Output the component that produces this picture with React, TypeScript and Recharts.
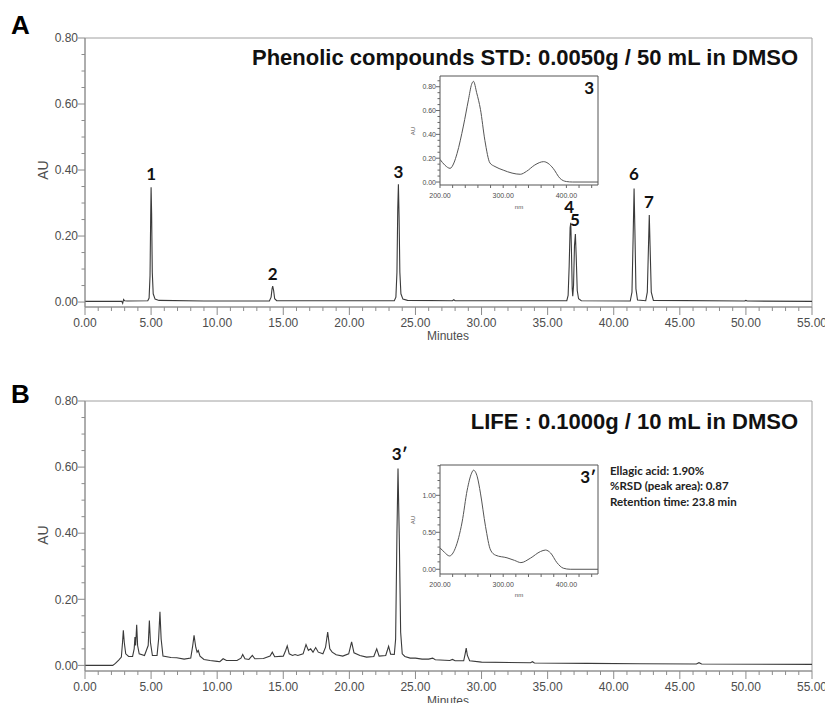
import React from 'react';
import { LineChart, Line, XAxis, YAxis, ReferenceArea, ReferenceDot } from 'recharts';

// retention time (min) vs absorbance (AU)
const traceStd: [number, number][] = [
  [0, 0.002], [2.78, 0.002], [2.85, -0.004], [2.92, 0.008], [3.0, 0.004], [3.2, 0.003],
  [4.75, 0.004], [4.85, 0.012], [4.92, 0.08], [4.97, 0.26], [5.0, 0.348], [5.04, 0.27], [5.09, 0.09], [5.16, 0.025], [5.3, 0.009], [5.6, 0.005],
  [9.0, 0.003], [13.95, 0.003], [14.08, 0.015], [14.15, 0.04], [14.2, 0.048], [14.27, 0.035], [14.35, 0.01], [14.5, 0.004],
  [23.4, 0.004], [23.52, 0.015], [23.6, 0.09], [23.66, 0.28], [23.71, 0.357], [23.76, 0.26], [23.82, 0.09], [23.9, 0.025], [24.05, 0.009], [24.4, 0.005],
  [27.8, 0.004], [27.9, 0.007], [28.0, 0.004],
  [36.45, 0.004], [36.55, 0.02], [36.63, 0.11], [36.7, 0.225], [36.75, 0.24], [36.8, 0.16], [36.86, 0.04], [36.9, 0.018], [36.96, 0.05], [37.03, 0.17], [37.1, 0.206], [37.16, 0.14], [37.24, 0.035], [37.34, 0.01], [37.55, 0.004],
  [41.25, 0.003], [41.38, 0.03], [41.47, 0.2], [41.54, 0.344], [41.6, 0.22], [41.68, 0.04], [41.8, 0.006],
  [42.42, 0.004], [42.54, 0.03], [42.63, 0.17], [42.69, 0.264], [42.75, 0.17], [42.84, 0.03], [43.0, 0.005],
  [49.9, 0.003], [50.0, 0.005], [50.1, 0.003], [55, 0.002],
];

const traceLife: [number, number][] = [
  [0, 0], [2.1, 0.0], [2.3, 0.006], [2.55, 0.016], [2.75, 0.025], [2.84, 0.07], [2.9, 0.106], [2.97, 0.07], [3.08, 0.035], [3.3, 0.027],
  [3.6, 0.027], [3.72, 0.05], [3.78, 0.086], [3.83, 0.06], [3.91, 0.123], [3.98, 0.06], [4.1, 0.035], [4.5, 0.03],
  [4.78, 0.06], [4.87, 0.136], [4.95, 0.07], [5.1, 0.03], [5.45, 0.03], [5.57, 0.08], [5.67, 0.162], [5.76, 0.08], [5.9, 0.028],
  [6.5, 0.024], [6.94, 0.023], [7.5, 0.019], [8.0, 0.022], [8.15, 0.06], [8.25, 0.091], [8.38, 0.055], [8.48, 0.04], [8.57, 0.045], [8.7, 0.028],
  [9.0, 0.018], [9.46, 0.015], [10.0, 0.012], [10.2, 0.011], [10.45, 0.02], [10.7, 0.015], [11.5, 0.015], [11.8, 0.022], [11.93, 0.033], [12.1, 0.02],
  [12.4, 0.018], [12.66, 0.03], [12.85, 0.02], [13.5, 0.021], [14.0, 0.028], [14.17, 0.04], [14.35, 0.026], [15.0, 0.028], [15.18, 0.045], [15.3, 0.059],
  [15.45, 0.035], [15.7, 0.03], [15.89, 0.033], [16.1, 0.03], [16.5, 0.035], [16.72, 0.063], [16.9, 0.045], [17.07, 0.05], [17.25, 0.04], [17.45, 0.054],
  [17.65, 0.04], [18.0, 0.035], [18.2, 0.055], [18.36, 0.101], [18.52, 0.05], [18.7, 0.04], [19.0, 0.032], [19.5, 0.028], [19.95, 0.035], [20.17, 0.071],
  [20.35, 0.038], [20.8, 0.03], [21.3, 0.025], [21.85, 0.027], [22.07, 0.05], [22.25, 0.028], [22.75, 0.03], [22.97, 0.058], [23.12, 0.034], [23.4, 0.033],
  [23.5, 0.08], [23.6, 0.4], [23.68, 0.596], [23.78, 0.38], [23.88, 0.1], [24.0, 0.035], [24.2, 0.027], [24.6, 0.022], [25.0, 0.022], [25.5, 0.019],
  [26.0, 0.019], [26.3, 0.022], [26.5, 0.017], [27.6, 0.015], [27.8, 0.018], [28.0, 0.014], [28.65, 0.014], [28.76, 0.035], [28.84, 0.052], [28.93, 0.03],
  [29.1, 0.014], [30, 0.01], [33.7, 0.008], [33.85, 0.011], [34.0, 0.007], [38, 0.006], [42, 0.005], [46.25, 0.004], [46.45, 0.008], [46.65, 0.004], [55, 0.003],
];

// UV spectra of peak 3 / 3' (nm vs AU)
const spectrumStd: [number, number][] = [
  [200, 0.19], [208, 0.14], [216, 0.115], [222, 0.16], [227, 0.24], [237, 0.47], [245, 0.69], [250, 0.82], [253, 0.845], [258, 0.75],
  [264, 0.61], [271, 0.35], [279, 0.16], [287, 0.13], [300, 0.1], [314, 0.075], [327, 0.065], [337, 0.09], [350, 0.143], [364, 0.171],
  [371, 0.157], [379, 0.115], [390, 0.03], [400, 0.004], [410, 0.0], [450, 0.0],
];

const spectrumLife: [number, number][] = [
  [200, 0.29], [207, 0.23], [215, 0.18], [224, 0.28], [235, 0.64], [243, 1.07], [250, 1.3], [253, 1.34], [259, 1.25], [264, 1.03],
  [272, 0.58], [280, 0.26], [288, 0.19], [306, 0.155], [318, 0.12], [328, 0.09], [343, 0.15], [359, 0.24], [367, 0.26], [375, 0.22],
  [385, 0.09], [395, 0.015], [406, 0.0], [450, 0.0],
];

const peakLabelsStd = [
  { text: '1', t: 5.0, au: 0.37 },
  { text: '2', t: 14.2, au: 0.067 },
  { text: '3', t: 23.71, au: 0.376 },
  { text: '4', t: 36.63, au: 0.27 },
  { text: '5', t: 37.07, au: 0.23 },
  { text: '6', t: 41.52, au: 0.37 },
  { text: '7', t: 42.67, au: 0.285 },
];
const peakLabelsLife = [{ text: '3\u2032', t: 23.8, au: 0.621 }];

const minuteTicks = Array.from({ length: 56 }, (_, i) => i);
const auTicks = [0, 0.05, 0.1, 0.15, 0.2, 0.25, 0.3, 0.35, 0.4, 0.45, 0.5, 0.55, 0.6, 0.65, 0.7, 0.75, 0.8];
const nmTicks = [200, 220, 240, 260, 280, 300, 320, 340, 360, 380, 400, 420, 440];
const nmLabels = [200, 300, 400];
const insetTicksStd = [0, 0.05, 0.1, 0.15, 0.2, 0.25, 0.3, 0.35, 0.4, 0.45, 0.5, 0.55, 0.6, 0.65, 0.7, 0.75, 0.8, 0.85];
const insetLabelsStd = [0, 0.2, 0.4, 0.6, 0.8];
const insetTicksLife = [0, 0.1, 0.2, 0.3, 0.4, 0.5, 0.6, 0.7, 0.8, 0.9, 1.0, 1.1, 1.2, 1.3, 1.4];
const insetLabelsLife = [0, 0.5, 1.0];

const infoLines = ['Ellagic acid: 1.90%', '%RSD (peak area): 0.87', 'Retention time: 23.8 min'];

const FONT = '"Liberation Sans", Arial, sans-serif';
const PEAK_FONT = 'Lato, "Open Sans", sans-serif';
const AXIS = '#8c8c8c';
const LABEL = '#4d4d4d';
const TRACE = '#3a3a3a';

const isOn = (v: number, list: number[]) => list.some((l) => Math.abs(l - v) < 1e-6);

function MinuteTick({ x, y, payload }: any) {
  const v = payload.value;
  const major = v % 5 === 0;
  return (
    <g>
      <line x1={x} y1={y} x2={x} y2={y + (major ? 8 : 4)} stroke={AXIS} />
      {major && (
        <text x={x} y={y + 20} textAnchor="middle" fontSize={12} fill={LABEL} fontFamily={FONT}>
          {v.toFixed(2)}
        </text>
      )}
    </g>
  );
}

function AuTick({ x, y, payload }: any) {
  const v = payload.value;
  const major = Math.round(v * 100) % 20 === 0;
  return (
    <g>
      <line x1={x - (major ? 7 : 3.5)} y1={y} x2={x} y2={y} stroke={AXIS} />
      {major && (
        <text x={x - 7} y={y + 4.3} textAnchor="end" fontSize={12} fill={LABEL} fontFamily={FONT}>
          {v.toFixed(2)}
        </text>
      )}
    </g>
  );
}

function makeInsetXTick() {
  return ({ x, y, payload }: any) => {
    const v = payload.value;
    const major = isOn(v, nmLabels);
    return (
      <g>
        <line x1={x} y1={y} x2={x} y2={y + 3} stroke="#666" />
        {major && (
          <text x={x} y={y + 13} textAnchor="middle" fontSize={7} fill={LABEL} fontFamily={FONT}>
            {v.toFixed(2)}
          </text>
        )}
      </g>
    );
  };
}

function makeInsetYTick(labels: number[]) {
  return ({ x, y, payload }: any) => {
    const v = payload.value;
    const major = isOn(v, labels);
    return (
      <g>
        <line x1={x - (major ? 4 : 2.5)} y1={y} x2={x} y2={y} stroke="#666" />
        {major && (
          <text x={x - 4} y={y + 2.5} textAnchor="end" fontSize={7} fill={LABEL} fontFamily={FONT}>
            {v.toFixed(2)}
          </text>
        )}
      </g>
    );
  };
}

function Chromatogram({ trace, yMin, height, labels }: { trace: [number, number][]; yMin: number; height: number; labels: { text: string; t: number; au: number }[] }) {
  const data = trace.map(([t, au]) => ({ t, au }));
  return (
    <LineChart width={825} height={height} data={data} margin={{ top: 38, right: 13, left: 0, bottom: height - 38 - 25 - (height === 350 ? 269 : 270) }}>
      <ReferenceArea x1={0} x2={55} y1={yMin} y2={0.8} fill="none" stroke="#a0a0a0" strokeWidth={1} />
      <XAxis type="number" dataKey="t" domain={[0, 55]} ticks={minuteTicks} interval={0} height={25} tickSize={0} tickMargin={0} tickLine={false} axisLine={{ stroke: AXIS }} tick={<MinuteTick />} allowDataOverflow />
      <YAxis type="number" domain={[yMin, 0.8]} ticks={auTicks} interval={0} width={85} tickSize={0} tickMargin={0} tickLine={false} axisLine={{ stroke: AXIS }} tick={<AuTick />} allowDataOverflow />
      <Line type="linear" dataKey="au" stroke={TRACE} strokeWidth={1.1} dot={false} isAnimationActive={false} />
      {labels.map((p) => (
        <ReferenceDot
          key={p.text}
          x={p.t}
          y={p.au}
          r={0}
          shape={(s: any) => (
            <text x={s.cx} y={s.cy} textAnchor="middle" fontSize={17} fontWeight="bold" fontFamily={PEAK_FONT} fill="#111">
              {p.text}
            </text>
          )}
        />
      ))}
    </LineChart>
  );
}

function Spectrum({ spectrum, yDomain, ticks, labels }: { spectrum: [number, number][]; yDomain: [number, number]; ticks: number[]; labels: number[] }) {
  const data = spectrum.map(([nm, au]) => ({ nm, au }));
  return (
    <LineChart width={205} height={145} data={data} margin={{ top: 6, right: 7, left: 0, bottom: 0 }}>
      <ReferenceArea x1={200} x2={450} y1={yDomain[0]} y2={yDomain[1]} fill="#fff" fillOpacity={1} stroke="#555" strokeWidth={1} />
      <XAxis type="number" dataKey="nm" domain={[200, 450]} ticks={nmTicks} interval={0} height={30} tickSize={0} tickMargin={0} tickLine={false} axisLine={false} tick={makeInsetXTick()} allowDataOverflow />
      <YAxis type="number" domain={yDomain} ticks={ticks} interval={0} width={40} tickSize={0} tickMargin={0} tickLine={false} axisLine={false} tick={makeInsetYTick(labels)} allowDataOverflow />
      <Line type="monotone" dataKey="au" stroke="#555" strokeWidth={1} dot={false} isAnimationActive={false} />
    </LineChart>
  );
}

export default function App() {
  return (
    <div style={{ position: 'absolute', left: 0, top: 0, width: 825, height: 703, background: '#fff', overflow: 'hidden', fontFamily: FONT }}>
      <div style={{ position: 'absolute', left: 0, top: 0 }}>
        <Chromatogram trace={traceStd} yMin={-0.015} height={350} labels={peakLabelsStd} />
      </div>
      <div style={{ position: 'absolute', left: 0, top: 363 }}>
        <Chromatogram trace={traceLife} yMin={-0.017} height={340} labels={peakLabelsLife} />
      </div>
      <div style={{ position: 'absolute', left: 400, top: 70 }}>
        <Spectrum spectrum={spectrumStd} yDomain={[-0.025, 0.89]} ticks={insetTicksStd} labels={insetLabelsStd} />
      </div>
      <div style={{ position: 'absolute', left: 400, top: 459 }}>
        <Spectrum spectrum={spectrumLife} yDomain={[-0.064, 1.41]} ticks={insetTicksLife} labels={insetLabelsLife} />
      </div>
      <svg width={825} height={703} style={{ position: 'absolute', left: 0, top: 0, pointerEvents: 'none' }}>
        <text x={11} y={34} fontSize={26} fontWeight="bold" fontFamily={FONT} fill="#000">A</text>
        <text x={11} y={403} fontSize={26} fontWeight="bold" fontFamily={FONT} fill="#000">B</text>
        <text x={798} y={65} textAnchor="end" fontSize={22} fontWeight="bold" fontFamily={FONT} fill="#111">
          Phenolic compounds STD: 0.0050g / 50 mL in DMSO
        </text>
        <text x={798} y={429} textAnchor="end" fontSize={22} fontWeight="bold" fontFamily={FONT} fill="#111">
          LIFE : 0.1000g / 10 mL in DMSO
        </text>
        <text x={48} y={170} transform="rotate(-90 48 170)" textAnchor="middle" fontSize={14} fontFamily={FONT} fill={LABEL}>AU</text>
        <text x={48} y={535} transform="rotate(-90 48 535)" textAnchor="middle" fontSize={14} fontFamily={FONT} fill={LABEL}>AU</text>
        <text x={448} y={340} textAnchor="middle" fontSize={12} fontFamily={FONT} fill={LABEL}>Minutes</text>
        <text x={448} y={705} textAnchor="middle" fontSize={12} fontFamily={FONT} fill={LABEL}>Minutes</text>
        <text x={415} y={131} transform="rotate(-90 415 131)" textAnchor="middle" fontSize={6} fontFamily={FONT} fill={LABEL}>AU</text>
        <text x={415} y={520} transform="rotate(-90 415 520)" textAnchor="middle" fontSize={6} fontFamily={FONT} fill={LABEL}>AU</text>
        <text x={519} y={209} textAnchor="middle" fontSize={6} fontFamily={FONT} fill={LABEL}>nm</text>
        <text x={519} y={597} textAnchor="middle" fontSize={6} fontFamily={FONT} fill={LABEL}>nm</text>
        <text x={594} y={94} textAnchor="end" fontSize={17} fontWeight="bold" fontFamily={PEAK_FONT} fill="#111">3</text>
        <text x={596} y={483} textAnchor="end" fontSize={17} fontWeight="bold" fontFamily={PEAK_FONT} fill="#111">3{'\u2032'}</text>
        {infoLines.map((line, i) => (
          <text key={line} x={610} y={475 + i * 15.3} fontSize={11.5} fontWeight="bold" fontFamily={PEAK_FONT} fill="#222">
            {line}
          </text>
        ))}
      </svg>
    </div>
  );
}
